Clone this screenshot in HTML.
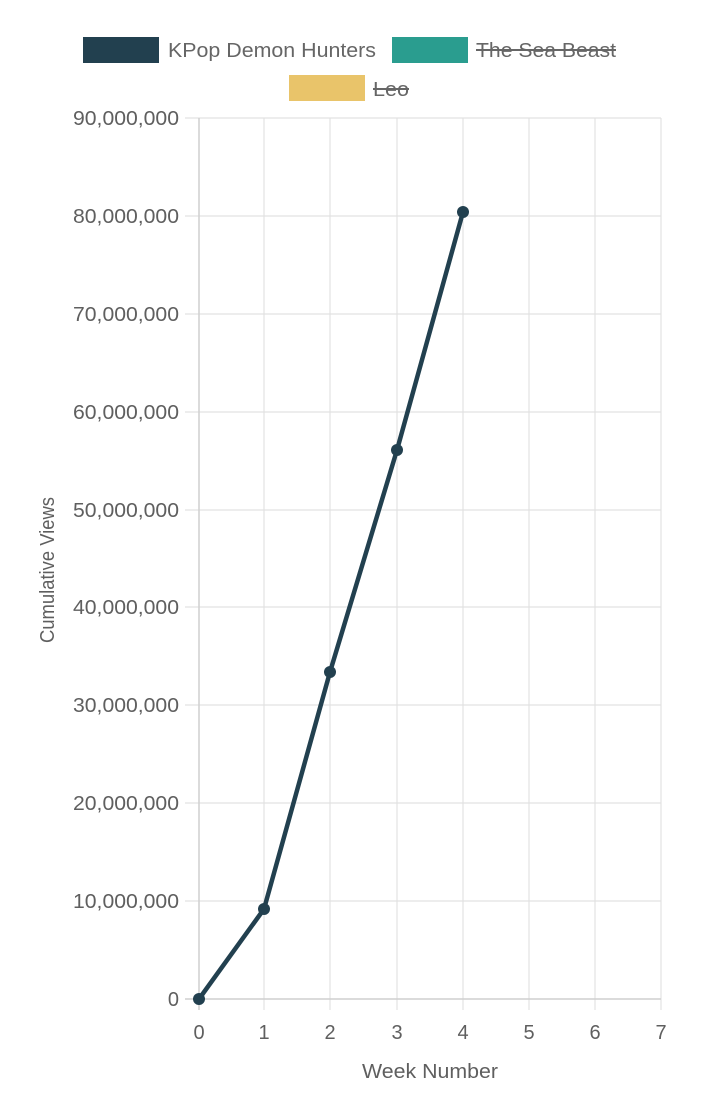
<!DOCTYPE html>
<html><head><meta charset="utf-8"><style>
html,body{margin:0;padding:0;background:#fff;}
svg{display:block;font-family:"Liberation Sans",sans-serif;}
</style></head><body>
<svg width="701" height="1093" viewBox="0 0 701 1093" xmlns="http://www.w3.org/2000/svg">
<rect width="701" height="1093" fill="#fff"/>
<!-- legend -->
<rect x="83" y="37" width="76" height="26" fill="#22404f"/>
<text x="168" y="57" font-size="20" fill="#666" textLength="208" lengthAdjust="spacingAndGlyphs">KPop Demon Hunters</text>
<rect x="392" y="37" width="76" height="26" fill="#2a9d8f"/>
<text x="476" y="57" font-size="20" fill="#666" textLength="140" lengthAdjust="spacingAndGlyphs">The Sea Beast</text>
<line x1="476" y1="50" x2="616" y2="50" stroke="#666" stroke-width="2"/>
<rect x="289" y="75" width="76" height="26" fill="#e9c46a"/>
<text x="373" y="96" font-size="20" fill="#666" textLength="36" lengthAdjust="spacingAndGlyphs">Leo</text>
<line x1="373" y1="89" x2="409" y2="89" stroke="#666" stroke-width="2"/>
<!-- grid -->
<g stroke="#e2e2e2" stroke-width="1.2">
<line x1="185" y1="118" x2="661" y2="118"/>
<line x1="185" y1="216" x2="661" y2="216"/>
<line x1="185" y1="314" x2="661" y2="314"/>
<line x1="185" y1="412" x2="661" y2="412"/>
<line x1="185" y1="510" x2="661" y2="510"/>
<line x1="185" y1="607" x2="661" y2="607"/>
<line x1="185" y1="705" x2="661" y2="705"/>
<line x1="185" y1="803" x2="661" y2="803"/>
<line x1="185" y1="901" x2="661" y2="901"/>
<line x1="264" y1="118" x2="264" y2="1010"/>
<line x1="330" y1="118" x2="330" y2="1010"/>
<line x1="397" y1="118" x2="397" y2="1010"/>
<line x1="463" y1="118" x2="463" y2="1010"/>
<line x1="529" y1="118" x2="529" y2="1010"/>
<line x1="595" y1="118" x2="595" y2="1010"/>
<line x1="661" y1="118" x2="661" y2="1010"/>
</g>
<g stroke="#cfcfcf" stroke-width="1.5">
<line x1="199" y1="118" x2="199" y2="1010"/>
<line x1="185" y1="999" x2="661" y2="999"/>
</g>
<!-- y labels -->
<g font-size="20" fill="#5f5f5f" text-anchor="end">
<text x="179" y="125" textLength="106" lengthAdjust="spacingAndGlyphs">90,000,000</text>
<text x="179" y="223" textLength="106" lengthAdjust="spacingAndGlyphs">80,000,000</text>
<text x="179" y="321" textLength="106" lengthAdjust="spacingAndGlyphs">70,000,000</text>
<text x="179" y="419" textLength="106" lengthAdjust="spacingAndGlyphs">60,000,000</text>
<text x="179" y="517" textLength="106" lengthAdjust="spacingAndGlyphs">50,000,000</text>
<text x="179" y="614" textLength="106" lengthAdjust="spacingAndGlyphs">40,000,000</text>
<text x="179" y="712" textLength="106" lengthAdjust="spacingAndGlyphs">30,000,000</text>
<text x="179" y="810" textLength="106" lengthAdjust="spacingAndGlyphs">20,000,000</text>
<text x="179" y="908" textLength="106" lengthAdjust="spacingAndGlyphs">10,000,000</text>
<text x="179" y="1006">0</text>
</g>
<g font-size="20" fill="#5f5f5f" text-anchor="middle">
<text x="199" y="1039">0</text>
<text x="264" y="1039">1</text>
<text x="330" y="1039">2</text>
<text x="397" y="1039">3</text>
<text x="463" y="1039">4</text>
<text x="529" y="1039">5</text>
<text x="595" y="1039">6</text>
<text x="661" y="1039">7</text>
<text x="430" y="1078" textLength="136" lengthAdjust="spacingAndGlyphs">Week Number</text>
</g>
<text transform="translate(54,570) rotate(-90)" font-size="20" fill="#5f5f5f" text-anchor="middle" textLength="146" lengthAdjust="spacingAndGlyphs">Cumulative Views</text>
<!-- series -->
<polyline points="199,999 264,909 330,672 397,450 463,212" fill="none" stroke="#22404f" stroke-width="4.5" stroke-linejoin="round"/>
<g fill="#22404f">
<circle cx="199" cy="999" r="6"/>
<circle cx="264" cy="909" r="6"/>
<circle cx="330" cy="672" r="6"/>
<circle cx="397" cy="450" r="6"/>
<circle cx="463" cy="212" r="6"/>
</g>
</svg>
</body></html>
